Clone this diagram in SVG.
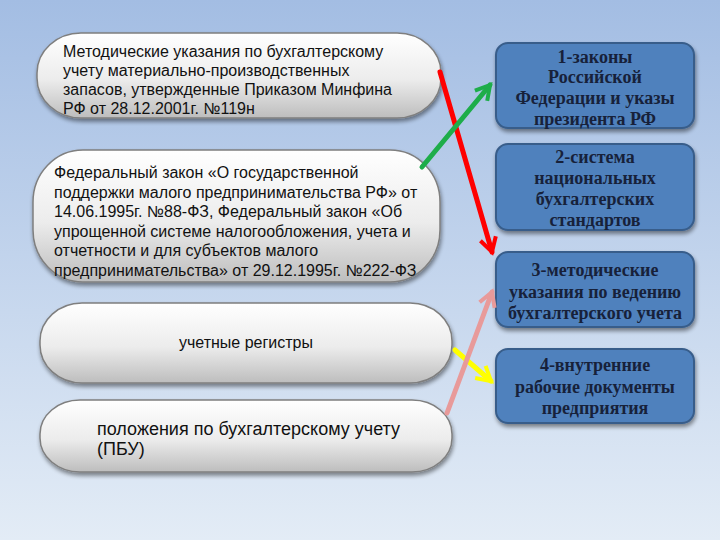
<svg xmlns="http://www.w3.org/2000/svg" width="720" height="540" viewBox="0 0 720 540">
<defs>
<linearGradient id="bg" x1="0" y1="0" x2="0" y2="1">
<stop offset="0" stop-color="#a3bde3"/>
<stop offset="1" stop-color="#e3ecf6"/>
</linearGradient>
<linearGradient id="pill" x1="0" y1="0" x2="0" y2="1">
<stop offset="0" stop-color="#ffffff"/>
<stop offset="0.55" stop-color="#ececec"/>
<stop offset="1" stop-color="#bdbdbd"/>
</linearGradient>
<filter id="sh" x="-10%" y="-10%" width="120%" height="130%">
<feGaussianBlur in="SourceAlpha" stdDeviation="2"/>
<feOffset dx="1" dy="3"/>
<feComponentTransfer><feFuncA type="linear" slope="0.45"/></feComponentTransfer>
<feMerge><feMergeNode/><feMergeNode in="SourceGraphic"/></feMerge>
</filter>
<marker id="ahR" viewBox="0 0 10 10" refX="8" refY="5" markerWidth="4" markerHeight="4" orient="auto" markerUnits="strokeWidth">
<path d="M1,1 L8,5 L1,9" fill="none" stroke="#ff0000" stroke-width="2"/>
</marker>
<marker id="ahG" viewBox="0 0 10 10" refX="8" refY="5" markerWidth="4" markerHeight="4" orient="auto" markerUnits="strokeWidth">
<path d="M1,1 L8,5 L1,9" fill="none" stroke="#1ead4a" stroke-width="2"/>
</marker>
<marker id="ahY" viewBox="0 0 10 10" refX="8" refY="5" markerWidth="4" markerHeight="4" orient="auto" markerUnits="strokeWidth">
<path d="M1,1 L8,5 L1,9" fill="none" stroke="#ffff00" stroke-width="2"/>
</marker>
<marker id="ahP" viewBox="0 0 10 10" refX="8" refY="5" markerWidth="4" markerHeight="4" orient="auto" markerUnits="strokeWidth">
<path d="M1,1 L8,5 L1,9" fill="none" stroke="#e89a9a" stroke-width="2"/>
</marker>
</defs>
<style>
.pill{fill:url(#pill);stroke:#7f7f7f;stroke-width:1.5;filter:url(#sh)}
.pt{font-family:"Liberation Sans",Arial,sans-serif;font-size:16px;fill:#111}
.box{fill:#4f81bd;stroke:#385d8a;stroke-width:2;filter:url(#sh)}
.bt{font-family:"Liberation Serif","Times New Roman",serif;font-weight:bold;font-size:18px;fill:#17213a;text-anchor:middle}
.ar{fill:none;stroke-width:5;stroke-linecap:round}
</style>
<rect width="720" height="540" fill="url(#bg)"/>

<g id="pill1">
<rect class="pill" x="37" y="33" width="404" height="85" rx="44" ry="40"/>
<text class="pt" x="63" y="57">Методические указания по бухгалтерскому</text>
<text class="pt" x="63" y="76">учету материально-производственных</text>
<text class="pt" x="63" y="95">запасов, утвержденные Приказом Минфина</text>
<text class="pt" x="63" y="114">РФ от 28.12.2001г. №119н</text>
</g>

<g id="pill2">
<rect class="pill" x="33" y="150" width="407" height="132" rx="50" ry="52"/>
<text class="pt" x="54" y="178">Федеральный закон «О государственной</text>
<text class="pt" x="54" y="198">поддержки малого предпринимательства РФ» от</text>
<text class="pt" x="54" y="217">14.06.1995г. №88-ФЗ, Федеральный закон «Об</text>
<text class="pt" x="54" y="237">упрощенной системе налогообложения, учета и</text>
<text class="pt" x="54" y="256">отчетности и для субъектов малого</text>
<text class="pt" x="54" y="276">предпринимательства» от 29.12.1995г. №222-ФЗ</text>
</g>

<g id="pill3">
<rect class="pill" x="40" y="303" width="412" height="80" rx="42" ry="38"/>
<text class="pt" x="246" y="348" text-anchor="middle">учетные регистры</text>
</g>

<g id="pill4">
<rect class="pill" x="40" y="400" width="412" height="72" rx="40" ry="34"/>
<text class="pt" x="97" y="435" style="font-size:18px">положения по бухгалтерскому учету</text>
<text class="pt" x="97" y="455" style="font-size:18px">(ПБУ)</text>
</g>

<g id="box1">
<rect class="box" x="496" y="43" width="198" height="85" rx="12"/>
<text class="bt" x="595" y="63">1-законы</text>
<text class="bt" x="595" y="83">Российской</text>
<text class="bt" x="595" y="104">Федерации и указы</text>
<text class="bt" x="595" y="125">президента РФ</text>
</g>

<g id="box2">
<rect class="box" x="496" y="144" width="198" height="86" rx="12"/>
<text class="bt" x="595" y="163">2-система</text>
<text class="bt" x="595" y="184">национальных</text>
<text class="bt" x="595" y="205">бухгалтерских</text>
<text class="bt" x="595" y="226">стандартов</text>
</g>

<g id="box3">
<rect class="box" x="496" y="252" width="198" height="75" rx="12"/>
<text class="bt" x="595" y="276">3-методические</text>
<text class="bt" x="595" y="298">указания по ведению</text>
<text class="bt" x="595" y="319">бухгалтерского учета</text>
</g>

<g id="box4">
<rect class="box" x="496" y="349" width="198" height="74" rx="12"/>
<text class="bt" x="595" y="371">4-внутренние</text>
<text class="bt" x="595" y="393">рабочие документы</text>
<text class="bt" x="595" y="414">предприятия</text>
</g>

<g id="connectors">
<line class="ar" x1="440" y1="72" x2="492" y2="252" stroke="#ff0000" marker-end="url(#ahR)"/>
<line class="ar" x1="422" y1="167" x2="490" y2="85" stroke="#1ead4a" marker-end="url(#ahG)"/>
<line class="ar" x1="455" y1="350" x2="491" y2="381" stroke="#ffff00" marker-end="url(#ahY)"/>
<line class="ar" x1="447" y1="413" x2="492" y2="292" stroke="#e89a9a" marker-end="url(#ahP)"/>
</g>
</svg>
